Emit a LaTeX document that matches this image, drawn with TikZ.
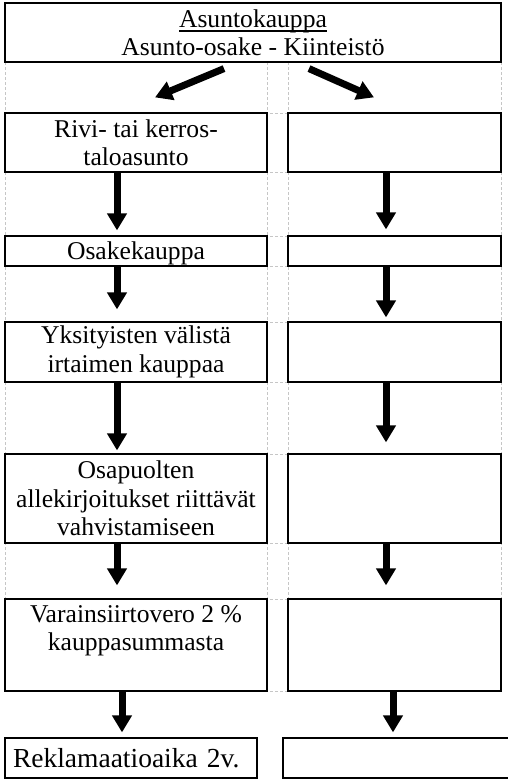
\documentclass[tikz,border=0pt]{standalone}
\usepackage{fontspec}
\setmainfont{Liberation Serif}
\usepackage{tikz}
\usetikzlibrary{arrows.meta}
\newcommand{\undertext}[1]{\setbox0\hbox{#1}\rlap{\rule[-4.5pt]{\wd0}{1.1pt}}\box0}
\tikzstyle{box}=[draw=black, line width=1.2pt, rectangle, inner sep=0pt, align=center, font=\fontsize{25.6}{28.5}\selectfont]
\tikzstyle{grid}=[draw=gray!45, line width=0.8pt, dash pattern=on 3pt off 2pt]
\tikzstyle{arrow}=[draw=black, line width=7pt, -{Triangle[width=19pt,length=17pt]}]
\begin{document}
\begin{tikzpicture}[x=1pt, y=-1pt]
	\useasboundingbox (0,0) rectangle (507,779);
	\begin{scope}
		\foreach \y in {62,113,172,236,266,322,382,454,543,599,691}
			\draw[grid] (5,\y) -- (501,\y);
		\foreach \x in {5,267,288,501}
			\draw[grid] (\x,62) -- (\x,691);
	\end{scope}
	\begin{scope}
		\node (top) at (253,32.5)[box, minimum width=496pt, minimum height=59pt] {\undertext{Asuntokauppa}\\Asunto-osake - Kiinteistö};
		\node (l2) at (136,142.5)[box, minimum width=262pt, minimum height=59pt] {Rivi- tai kerros-\\taloasunto};
		\node (r2) at (394.5,142.5)[box, minimum width=213pt, minimum height=59pt] {};
		\node (l3) at (136,251)[box, minimum width=262pt, minimum height=30pt, text depth=0pt] {Osakekauppa};
		\node (r3) at (394.5,251)[box, minimum width=213pt, minimum height=30pt] {};
		\node (l4) at (136,352)[box, minimum width=262pt, minimum height=60pt] {Yksityisten välistä\\irtaimen kauppaa};
		\node (r4) at (394.5,352)[box, minimum width=213pt, minimum height=60pt] {};
		\node (l5) at (136,498.5)[box, minimum width=262pt, minimum height=89pt] {Osapuolten\\allekirjoitukset riittävät\\vahvistamiseen};
		\node (r5) at (394.5,498.5)[box, minimum width=213pt, minimum height=89pt] {};
		\node (l6) at (136,645)[box, minimum width=262pt, minimum height=92pt, text depth=34pt] {Varainsiirtovero 2 \%\\kauppasummasta};
		\node (r6) at (394.5,645)[box, minimum width=213pt, minimum height=92pt] {};
		\node (l7) at (131,758)[box, minimum width=252pt, minimum height=40pt, text width=236pt, align=left, font=\fontsize{27.5}{32}\selectfont] {Reklamaatioaika 2v.};
		\node (r7) at (397.5,758)[box, minimum width=229pt, minimum height=40pt] {};
	\end{scope}
	\begin{scope}
		\path [arrow] ([xshift=-29pt,yshift=-6pt]top.south) -- ([xshift=19pt,yshift=15pt]l2.north);
		\path [arrow] ([xshift=56pt,yshift=-6pt]top.south) -- ([xshift=-20.5pt,yshift=15pt]r2.north);
		\path [arrow] ([xshift=-19pt]l2.south) -- ([xshift=-19pt,yshift=5pt]l3.north);
		\path [arrow] ([xshift=-19pt]l3.south) -- ([xshift=-19pt,yshift=12pt]l4.north);
		\path [arrow] ([xshift=-19pt]l4.south) -- ([xshift=-19pt,yshift=3pt]l5.north);
		\path [arrow] ([xshift=-19pt]l5.south) -- ([xshift=-19pt,yshift=13pt]l6.north);
		\path [arrow] ([xshift=-14pt]l6.south) -- ([xshift=-9pt,yshift=5pt]l7.north);
		\path [arrow] ([xshift=-8.5pt]r2.south) -- ([xshift=-8.5pt,yshift=6pt]r3.north);
		\path [arrow] ([xshift=-8.5pt]r3.south) -- ([xshift=-8.5pt,yshift=4pt]r4.north);
		\path [arrow] ([xshift=-8.5pt]r4.south) -- ([xshift=-8.5pt,yshift=11pt]r5.north);
		\path [arrow] ([xshift=-8.5pt]r5.south) -- ([xshift=-8.5pt,yshift=13pt]r6.north);
		\path [arrow] ([xshift=-1.5pt]r6.south) -- ([xshift=-4.5pt,yshift=5pt]r7.north);
	\end{scope}
\end{tikzpicture}
\end{document}
